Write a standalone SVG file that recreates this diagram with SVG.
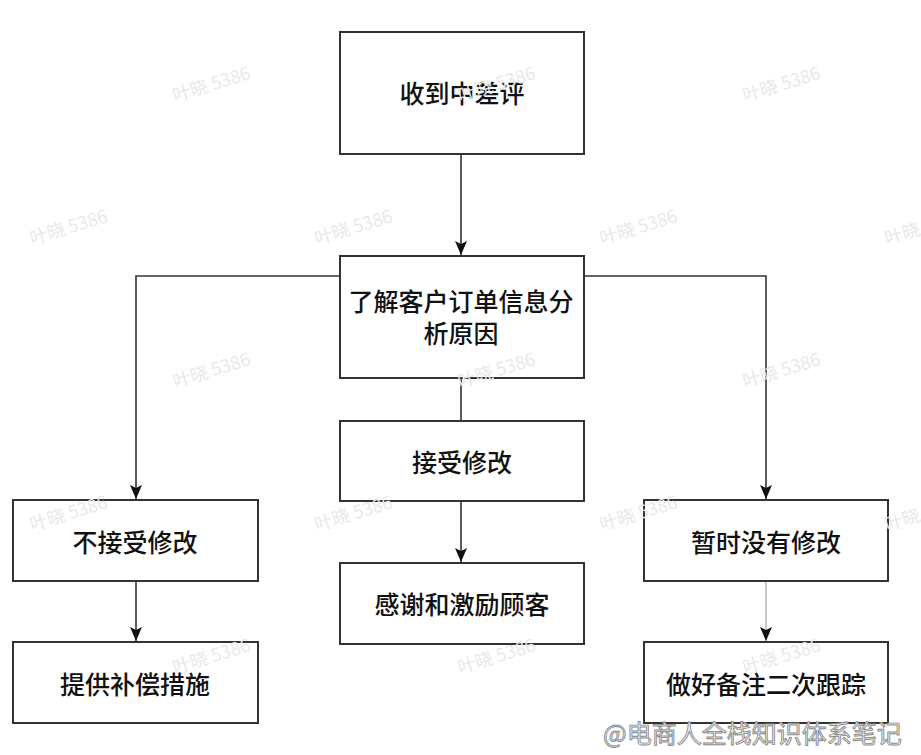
<svg xmlns="http://www.w3.org/2000/svg" width="921" height="755" viewBox="0 0 921 755">
<style>
.box{fill:#fff;stroke:#333;stroke-width:2}
.lbl{font-family:"Noto Sans CJK SC","Noto Sans",sans-serif;font-size:25px;font-weight:500;fill:#111;text-anchor:middle}
.con{fill:none;stroke:#333;stroke-width:1.6}
.wm{font-family:"Noto Sans CJK SC","Noto Sans",sans-serif;font-size:18px;fill:#e9e9e9}
.sig{font-family:"Noto Sans CJK SC","Noto Sans",sans-serif;font-size:25px;fill:#f2f2f2;stroke:#8a8a8a;stroke-width:0.9}
</style>
<defs>
<marker id="arr" markerUnits="userSpaceOnUse" markerWidth="14" markerHeight="12" viewBox="0 0 14 12" refX="14" refY="6" orient="auto">
<path d="M0,0 L14,6 L0,12 L3,6 z" fill="#111"/>
</marker>
</defs>
<rect width="921" height="755" fill="#fff"/>
<g id="connectors">
<path class="con" d="M461,154 V255" marker-end="url(#arr)"/>
<path class="con" d="M340,276 H136 V499" marker-end="url(#arr)"/>
<path class="con" d="M584,276 H766 V499" marker-end="url(#arr)"/>
<path class="con" d="M461,378 V421"/>
<path class="con" d="M461,501 V562" marker-end="url(#arr)"/>
<path class="con" d="M136,581 V641" marker-end="url(#arr)"/>
<path class="con" d="M766,581 V641" style="stroke:#bbb" marker-end="url(#arr)"/>
</g>
<g id="n1"><rect class="box" x="340" y="32" width="244" height="122"/><text class="lbl" x="462" y="103">收到中差评</text></g>
<g id="n2"><rect class="box" x="340" y="256" width="244" height="122"/><text class="lbl" x="461" y="311">了解客户订单信息分<tspan x="461" dy="32">析原因</tspan></text></g>
<g id="n3"><rect class="box" x="340" y="421" width="244" height="80"/><text class="lbl" x="462" y="472">接受修改</text></g>
<g id="n4"><rect class="box" x="340" y="563" width="244" height="81"/><text class="lbl" x="462" y="614">感谢和激励顾客</text></g>
<g id="n5"><rect class="box" x="13" y="500" width="245" height="81"/><text class="lbl" x="135" y="552">不接受修改</text></g>
<g id="n6"><rect class="box" x="13" y="642" width="245" height="81"/><text class="lbl" x="135" y="694">提供补偿措施</text></g>
<g id="n7"><rect class="box" x="644" y="500" width="244" height="81"/><text class="lbl" x="766" y="552">暂时没有修改</text></g>
<g id="n8"><rect class="box" x="644" y="642" width="244" height="81"/><text class="lbl" x="766" y="694">做好备注二次跟踪</text></g>
<g id="watermarks">
<text class="wm" x="175" y="102" transform="rotate(-17 175 102)">叶晓 5386</text>
<text class="wm" x="460" y="102" transform="rotate(-17 460 102)">叶晓 5386</text>
<text class="wm" x="745" y="102" transform="rotate(-17 745 102)">叶晓 5386</text>
<text class="wm" x="32" y="245" transform="rotate(-17 32 245)">叶晓 5386</text>
<text class="wm" x="317" y="245" transform="rotate(-17 317 245)">叶晓 5386</text>
<text class="wm" x="602" y="245" transform="rotate(-17 602 245)">叶晓 5386</text>
<text class="wm" x="887" y="245" transform="rotate(-17 887 245)">叶晓 5386</text>
<text class="wm" x="175" y="388" transform="rotate(-17 175 388)">叶晓 5386</text>
<text class="wm" x="460" y="388" transform="rotate(-17 460 388)">叶晓 5386</text>
<text class="wm" x="745" y="388" transform="rotate(-17 745 388)">叶晓 5386</text>
<text class="wm" x="32" y="531" transform="rotate(-17 32 531)">叶晓 5386</text>
<text class="wm" x="317" y="531" transform="rotate(-17 317 531)">叶晓 5386</text>
<text class="wm" x="602" y="531" transform="rotate(-17 602 531)">叶晓 5386</text>
<text class="wm" x="887" y="531" transform="rotate(-17 887 531)">叶晓 5386</text>
<text class="wm" x="175" y="674" transform="rotate(-17 175 674)">叶晓 5386</text>
<text class="wm" x="460" y="674" transform="rotate(-17 460 674)">叶晓 5386</text>
<text class="wm" x="745" y="674" transform="rotate(-17 745 674)">叶晓 5386</text>
</g>
<text class="sig" x="603" y="743">@电商人全栈知识体系笔记</text>
</svg>
